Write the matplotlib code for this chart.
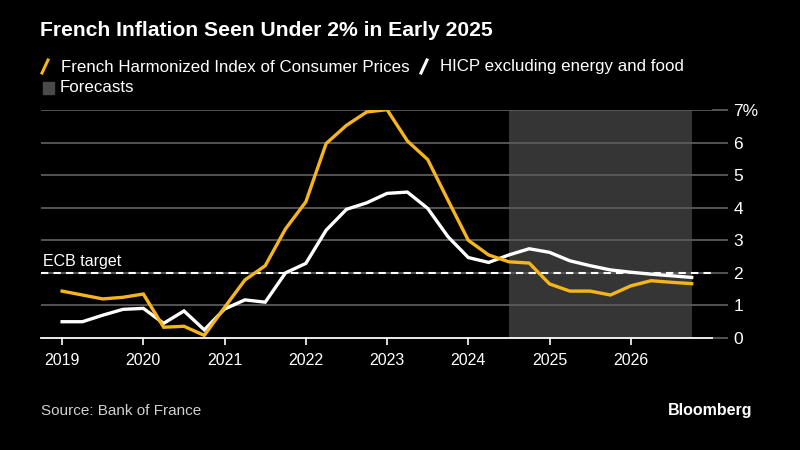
import numpy as np
import matplotlib.pyplot as plt
from matplotlib.lines import Line2D
from matplotlib.patches import Rectangle

plt.rcParams["font.family"] = ["Liberation Sans", "DejaVu Sans"]

# Data ###################################################################
# quarterly points, 2019 Q1 .. 2026 Q4 (year fraction)
years = 2019 + 0.25 * np.arange(32)
hicp = [1.44, 1.32, 1.20, 1.25, 1.35, 0.33, 0.36, 0.08,
        0.94, 1.78, 2.22, 3.35, 4.18, 5.97, 6.53, 6.94,
        7.01, 6.05, 5.48, 4.23, 3.00, 2.55, 2.34, 2.30,
        1.66, 1.44, 1.44, 1.32, 1.60, 1.76, 1.71, 1.67]
core = [0.50, 0.50, 0.70, 0.88, 0.91, 0.45, 0.83, 0.25,
        0.89, 1.17, 1.10, 2.00, 2.29, 3.31, 3.95, 4.15,
        4.44, 4.48, 3.98, 3.11, 2.47, 2.32, 2.55, 2.74,
        2.63, 2.37, 2.22, 2.09, 2.02, 1.96, 1.91, 1.86]
forecast_start = 2024.5
forecast_end = 2026.75
ecb_target = 2
xticks = [2019, 2020, 2021, 2022, 2023, 2024, 2025, 2026]
yticks = [0, 1, 2, 3, 4, 5, 6, 7]
ylabels = ["0", "1", "2", "3", "4", "5", "6", "7%"]

yellow = "#f5b51b"
bg = "black"
gridc = "#5a5a5a"

# Figure #################################################################
W, H = 800, 450
fig = plt.figure(figsize=(8, 4.5), dpi=100, facecolor=bg)
ax = fig.add_axes([41 / W, 1 - 338 / H, (712 - 41) / W, (338 - 110) / H])
ax.set_facecolor(bg)

ax.axvspan(forecast_start, forecast_end, color="#353535", lw=0, zorder=0)
for v in yticks[1:]:
    ax.axhline(v, color=gridc, lw=1.3, zorder=1)
ax.axhline(ecb_target, color="white", lw=1.5, ls=(0, (3.5, 2.5)), zorder=2)
ax.plot(years, hicp, color=yellow, lw=2.4, zorder=4, solid_joinstyle="miter")
ax.plot(years, core, color="white", lw=2.4, zorder=3, solid_joinstyle="miter")

ax.set_xlim(2018.74, 2027.0)
ax.set_ylim(0, 7)

for s in ["top", "left", "right"]:
    ax.spines[s].set_visible(False)
ax.spines["bottom"].set_color("white")
ax.spines["bottom"].set_linewidth(1.3)

ax.set_xticks(xticks)
ax.set_xticklabels([str(y) for y in xticks])
ax.tick_params(axis="x", colors="white", length=5, width=1.2, labelsize=11.5, pad=6)
ax.yaxis.tick_right()
ax.set_yticks(yticks)
ax.set_yticklabels(ylabels)
ax.tick_params(axis="y", colors=gridc, labelcolor="white", length=11.5, width=1.3,
               labelsize=12.5, pad=4)

ax.text(2018.76, ecb_target + 0.12, "ECB target", color="white", fontsize=11.5,
        va="bottom", ha="left")

# Title, legend, footer ##################################################
def fx(px):
    return px / W

def fy(py):
    return 1 - py / H

fig.text(fx(40), fy(31), "French Inflation Seen Under 2% in Early 2025",
         color="white", fontsize=15.2, fontweight="bold", va="center")

fig.add_artist(Line2D([fx(42), fx(48)], [fy(73), fy(60)], color=yellow, lw=2.2))
fig.text(fx(61), fy(67), "French Harmonized Index of Consumer Prices",
         color="white", fontsize=12.2, va="center")
fig.add_artist(Line2D([fx(421), fx(427)], [fy(73), fy(60)], color="white", lw=2.2))
fig.text(fx(440), fy(67), "HICP excluding energy and food",
         color="white", fontsize=12.2, va="center")
fig.add_artist(Rectangle((fx(43), fy(94)), 11 / W, 12 / H, color="#4a4a4a",
                         transform=fig.transFigure))
fig.text(fx(60), fy(88), "Forecasts", color="white", fontsize=12.2, va="center")

fig.text(fx(41), fy(411), "Source: Bank of France", color="#d0d0d0",
         fontsize=11, va="center")
fig.text(fx(752), fy(411), "Bloomberg", color="white", fontsize=11.5,
         fontweight="bold", va="center", ha="right")

fig.savefig("out.png", dpi=100, facecolor=bg)
